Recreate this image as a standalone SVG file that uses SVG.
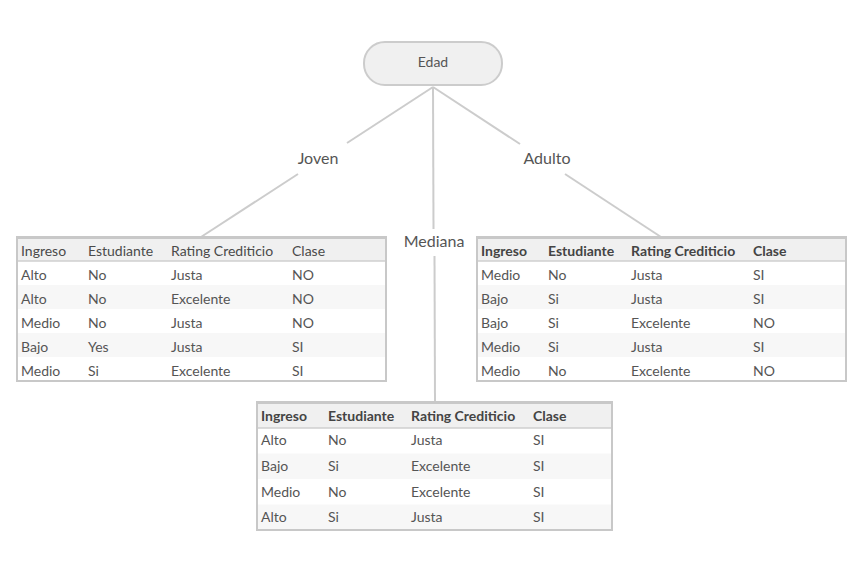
<svg xmlns="http://www.w3.org/2000/svg" width="852" height="562" viewBox="0 0 852 562">
<style>
text{font-family:Lato,"Noto Sans","Liberation Sans",sans-serif;fill:#555;}
.t{font-size:14px;}
.h{font-size:14px;fill:#4a4a4a;}
.hb{font-size:14px;font-weight:bold;fill:#444;}
.lbl{font-size:16px;fill:#555;text-anchor:middle;}
.frame{fill:#fff;stroke:#c8c8c8;stroke-width:2;}
.head{fill:#f0f0f0;}
.alt{fill:#f7f7f7;}
.sep{stroke:#cfcfcf;stroke-width:1.5;}
.conn{stroke:#cccccc;stroke-width:2;fill:none;}
</style>
<rect width="852" height="562" fill="#fff"/>
<g id="connectors">
<line class="conn" x1="433" y1="87" x2="347" y2="143"/>
<line class="conn" x1="298" y1="174" x2="201" y2="237"/>
<line class="conn" x1="433" y1="87" x2="520" y2="144"/>
<line class="conn" x1="565" y1="174" x2="661" y2="237"/>
<line class="conn" x1="433" y1="87" x2="433.5" y2="229"/>
<line class="conn" x1="434.5" y1="256" x2="435" y2="402"/>
<text class="lbl" x="318" y="164">Joven</text>
<text class="lbl" x="547" y="164">Adulto</text>
<text class="lbl" x="434" y="247">Mediana</text>
</g>
<g id="edad">
<rect x="364" y="42" width="138" height="43" rx="21" fill="#f0f0f0" stroke="#cccccc" stroke-width="2"/>
<text class="t" x="433" y="67" text-anchor="middle">Edad</text>
</g>
<g id="tabla-joven">
<rect class="frame" x="17" y="237" width="369" height="144"/>
<rect class="head" x="18" y="238" width="367" height="23"/>
<rect class="alt" x="18" y="285" width="367" height="24"/>
<rect class="alt" x="18" y="333" width="367" height="24"/>
<line class="sep" x1="18" y1="261" x2="385" y2="261"/>
<line x1="17" y1="238" x2="386" y2="238" stroke="#c8c8c8" stroke-width="2"/>
<text class="h" x="21" y="256">Ingreso</text><text class="h" x="88" y="256">Estudiante</text><text class="h" x="171" y="256">Rating Crediticio</text><text class="h" x="292" y="256">Clase</text>
<text class="t" x="21" y="280">Alto</text><text class="t" x="88" y="280">No</text><text class="t" x="171" y="280">Justa</text><text class="t" x="292" y="280">NO</text>
<text class="t" x="21" y="304">Alto</text><text class="t" x="88" y="304">No</text><text class="t" x="171" y="304">Excelente</text><text class="t" x="292" y="304">NO</text>
<text class="t" x="21" y="328">Medio</text><text class="t" x="88" y="328">No</text><text class="t" x="171" y="328">Justa</text><text class="t" x="292" y="328">NO</text>
<text class="t" x="21" y="352">Bajo</text><text class="t" x="88" y="352">Yes</text><text class="t" x="171" y="352">Justa</text><text class="t" x="292" y="352">SI</text>
<text class="t" x="21" y="376">Medio</text><text class="t" x="88" y="376">Si</text><text class="t" x="171" y="376">Excelente</text><text class="t" x="292" y="376">SI</text>
</g>
<g id="tabla-adulto">
<rect class="frame" x="477" y="237" width="369" height="144"/>
<rect class="head" x="478" y="238" width="367" height="23"/>
<rect class="alt" x="478" y="285" width="367" height="24"/>
<rect class="alt" x="478" y="333" width="367" height="24"/>
<line class="sep" x1="478" y1="261" x2="845" y2="261"/>
<line x1="477" y1="238" x2="846" y2="238" stroke="#c8c8c8" stroke-width="2"/>
<text class="hb" x="481" y="256">Ingreso</text><text class="hb" x="548" y="256">Estudiante</text><text class="hb" x="631" y="256">Rating Crediticio</text><text class="hb" x="753" y="256">Clase</text>
<text class="t" x="481" y="280">Medio</text><text class="t" x="548" y="280">No</text><text class="t" x="631" y="280">Justa</text><text class="t" x="753" y="280">SI</text>
<text class="t" x="481" y="304">Bajo</text><text class="t" x="548" y="304">Si</text><text class="t" x="631" y="304">Justa</text><text class="t" x="753" y="304">SI</text>
<text class="t" x="481" y="328">Bajo</text><text class="t" x="548" y="328">Si</text><text class="t" x="631" y="328">Excelente</text><text class="t" x="753" y="328">NO</text>
<text class="t" x="481" y="352">Medio</text><text class="t" x="548" y="352">Si</text><text class="t" x="631" y="352">Justa</text><text class="t" x="753" y="352">SI</text>
<text class="t" x="481" y="376">Medio</text><text class="t" x="548" y="376">No</text><text class="t" x="631" y="376">Excelente</text><text class="t" x="753" y="376">NO</text>
</g>
<g id="tabla-mediana">
<rect class="frame" x="257" y="402" width="355" height="128"/>
<rect class="head" x="258" y="403" width="353" height="25"/>
<rect class="alt" x="258" y="453.5" width="353" height="25.5"/>
<rect class="alt" x="258" y="504.5" width="353" height="24.5"/>
<line class="sep" x1="258" y1="428" x2="611" y2="428"/>
<line x1="257" y1="403" x2="612" y2="403" stroke="#c8c8c8" stroke-width="2"/>
<text class="hb" x="261" y="421">Ingreso</text><text class="hb" x="328" y="421">Estudiante</text><text class="hb" x="411" y="421">Rating Crediticio</text><text class="hb" x="533" y="421">Clase</text>
<text class="t" x="261" y="445">Alto</text><text class="t" x="328" y="445">No</text><text class="t" x="411" y="445">Justa</text><text class="t" x="533" y="445">SI</text>
<text class="t" x="261" y="471">Bajo</text><text class="t" x="328" y="471">Si</text><text class="t" x="411" y="471">Excelente</text><text class="t" x="533" y="471">SI</text>
<text class="t" x="261" y="497">Medio</text><text class="t" x="328" y="497">No</text><text class="t" x="411" y="497">Excelente</text><text class="t" x="533" y="497">SI</text>
<text class="t" x="261" y="522">Alto</text><text class="t" x="328" y="522">Si</text><text class="t" x="411" y="522">Justa</text><text class="t" x="533" y="522">SI</text>
</g>
</svg>
